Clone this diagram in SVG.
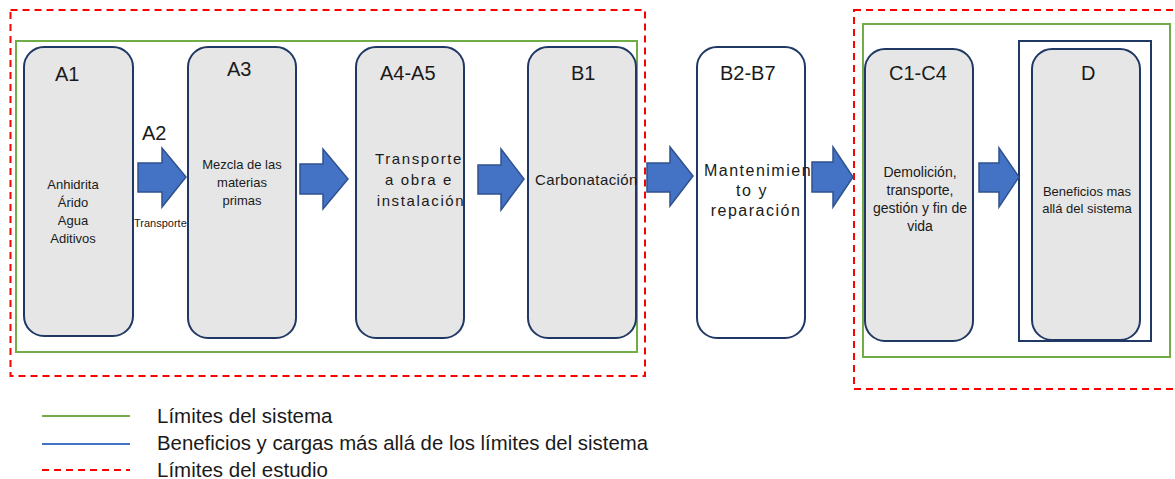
<svg xmlns="http://www.w3.org/2000/svg" width="1175" height="479" viewBox="0 0 1175 479">
<style>
.box{fill:#E6E6E6;stroke:#203864;stroke-width:2}
.wbox{fill:#FFFFFF;stroke:#203864;stroke-width:2}
.green{fill:none;stroke:#70AD47;stroke-width:2}
.red{fill:none;stroke:#FF0000;stroke-width:2;stroke-dasharray:7 5}
.navy{fill:none;stroke:#203864;stroke-width:2}
.arr{fill:#4472C4;stroke:#2F528F;stroke-width:1.5;stroke-linejoin:miter}
text{font-family:"Liberation Sans",Arial,sans-serif;fill:#1A1A1A}
.t{font-size:20px}
.b{font-size:13px;text-anchor:middle}
.c{font-size:14px;text-anchor:middle}
.s{font-size:15px;letter-spacing:1.6px;text-anchor:middle}
.m{font-size:16px;letter-spacing:1.5px;text-anchor:middle}
.lg{font-size:20.5px}
</style>
<g id="boundaries">
<rect class="red" x="10.5" y="10" width="634.5" height="366"/>
<rect class="green" x="16" y="41" width="621" height="311"/>
<rect class="red" x="854" y="10" width="330" height="379"/>
<rect class="green" x="863" y="24" width="307" height="333"/>
</g>
<g id="node-A1">
<rect class="box" x="24" y="47" width="109" height="289" rx="20"/>
<text class="t" x="55" y="81">A1</text>
<text class="b" x="73" y="189">Anhidrita</text>
<text class="b" x="73" y="207">Árido</text>
<text class="b" x="73" y="225">Agua</text>
<text class="b" x="73" y="243">Aditivos</text>
</g>
<g id="node-A3">
<rect class="box" x="188" y="47" width="108" height="291" rx="20"/>
<text class="t" x="227" y="76">A3</text>
<text class="b" x="242" y="169">Mezcla de las</text>
<text class="b" x="242" y="187">materias</text>
<text class="b" x="242" y="205">primas</text>
</g>
<g id="node-A4-A5">
<rect class="box" x="356" y="47" width="108" height="291" rx="20"/>
<text class="t" x="380" y="80">A4-A5</text>
<text class="s" x="419" y="164">Transporte</text>
<text class="s" x="419" y="185">a obra e</text>
<text class="s" x="421" y="206">instalación</text>
</g>
<g id="node-B1">
<rect class="box" x="528" y="47" width="108" height="291" rx="20"/>
<text class="t" x="571" y="80">B1</text>
<text x="535" y="185" style="font-size:15px;letter-spacing:0.4px">Carbonatación</text>
</g>
<g id="node-B2-B7">
<rect class="wbox" x="697" y="47" width="108" height="291" rx="20"/>
<text class="t" x="720" y="80">B2-B7</text>
<text class="m" x="758" y="176">Mantenimien</text>
<text class="m" x="752" y="196">to y</text>
<text class="m" x="756" y="216">reparación</text>
</g>
<g id="node-C1-C4">
<rect class="box" x="865" y="49" width="108" height="292" rx="20"/>
<text class="t" x="889" y="80">C1-C4</text>
<text class="c" x="920" y="177">Demolición,</text>
<text class="c" x="920" y="195">transporte,</text>
<text class="c" x="920" y="213">gestión y fin de</text>
<text class="c" x="920" y="231">vida</text>
</g>
<g id="node-D">
<rect class="navy" x="1019" y="41" width="132" height="300"/>
<rect class="box" x="1032" y="49" width="108" height="291" rx="20"/>
<text class="t" x="1081" y="80">D</text>
<text class="b" x="1087" y="196">Beneficios mas</text>
<text class="b" x="1087" y="213">allá del sistema</text>
</g>
<g id="connectors">
<polygon class="arr" points="138,163 162,163 162,148 186,177 162,207 162,192 138,192"/>
<polygon class="arr" points="300,164 323,164 323,149 348,179 323,209 323,194 300,194"/>
<polygon class="arr" points="478,165 501,165 501,149 524,179 501,210 501,194 478,194"/>
<polygon class="arr" points="647,163 670,163 670,147 693,176 670,206 670,192 647,192"/>
<polygon class="arr" points="812,162 833,162 833,147 853,177 833,207 833,192 812,192"/>
<polygon class="arr" points="979,163 999,163 999,148 1019,177 999,207 999,192 979,192"/>
<text x="142" y="140" class="t">A2</text>
<text x="134" y="227" style="font-size:11px">Transporte</text>
</g>
<g id="legend">
<line x1="42" y1="416" x2="130" y2="416" stroke="#70AD47" stroke-width="2"/>
<line x1="42" y1="444" x2="130" y2="444" stroke="#4472C4" stroke-width="2"/>
<line x1="42" y1="470" x2="130" y2="470" stroke="#FF0000" stroke-width="2" stroke-dasharray="7 5"/>
<text class="lg" x="157" y="423">Límites del sistema</text>
<text class="lg" x="157" y="450" textLength="491" lengthAdjust="spacingAndGlyphs">Beneficios y cargas más allá de los límites del sistema</text>
<text class="lg" x="157" y="477">Límites del estudio</text>
</g>
</svg>
